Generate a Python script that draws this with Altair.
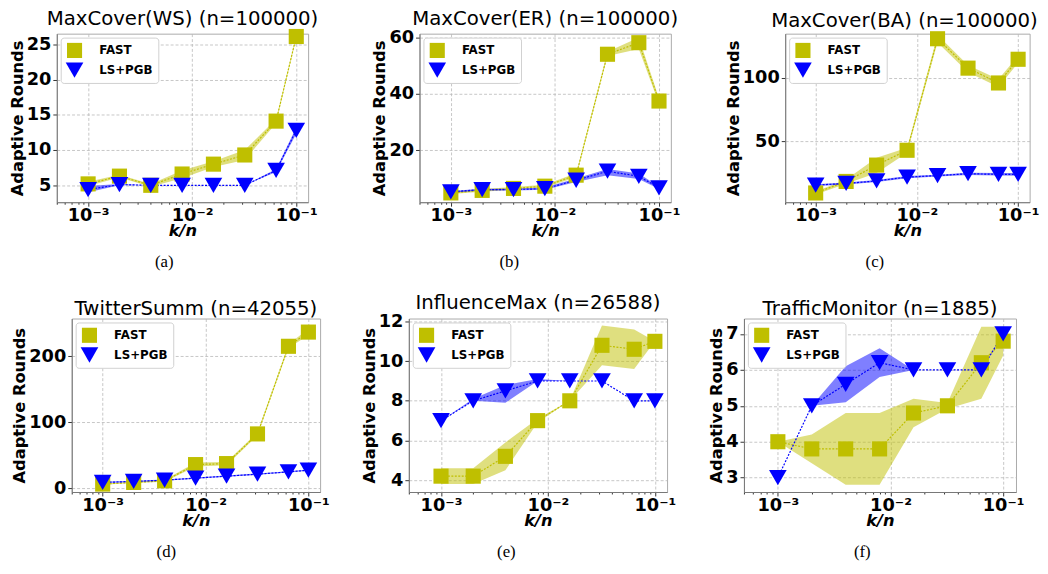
import altair as alt
import pandas as pd

# ---------------- data ----------------
X = [0.001, 0.002, 0.004, 0.008, 0.016, 0.032, 0.064, 0.1]
SERIES = ["FAST", "LS+PGB"]
COLORS = ["#bfbf00", "#0000ff"]
SHAPES = ["square", "triangle-down"]

titles = ["MaxCover(WS) (n=100000)", "MaxCover(ER) (n=100000)", "MaxCover(BA) (n=100000)",
          "TwitterSumm (n=42055)", "InfluenceMax (n=26588)", "TrafficMonitor (n=1885)"]
captions = ["(a)", "(b)", "(c)", "(d)", "(e)", "(f)"]

fast_a = [5.2, 6.3, 5.0, 6.6, 8.0, 9.3, 14.1, 26.1]
fast_a_lo = [4.9, 6.1, 4.8, 6.0, 7.6, 8.6, 13.8, 25.9]
fast_a_hi = [5.5, 6.5, 5.2, 7.1, 8.4, 10.0, 14.4, 26.3]
ls_a = [4.4, 5.1, 5.0, 5.0, 5.0, 5.0, 7.1, 12.8]
ls_a_lo = [4.0, 5.0, 5.0, 5.0, 5.0, 5.0, 6.9, 12.3]
ls_a_hi = [4.9, 5.2, 5.0, 5.0, 5.0, 5.0, 7.3, 13.2]

fast_b = [4.9, 5.8, 6.5, 7.3, 11.2, 54.1, 58.2, 37.5]
fast_b_lo = [4.5, 5.3, 6.0, 6.8, 10.5, 53.5, 56.0, 36.5]
fast_b_hi = [5.3, 6.3, 7.0, 7.8, 11.9, 55.0, 60.0, 38.5]
ls_b = [5.3, 6.1, 6.1, 6.4, 9.4, 12.6, 10.8, 6.7]
ls_b_lo = [5.0, 5.8, 5.8, 6.0, 8.8, 11.2, 9.8, 6.3]
ls_b_hi = [5.6, 6.4, 6.4, 6.8, 10.0, 13.4, 11.8, 7.1]

fast_c = [9.3, 18.4, 31.3, 43.0, 131.0, 107.8, 96.1, 114.8]
fast_c_lo = [8.0, 16.5, 25.0, 41.0, 128.0, 104.5, 93.0, 112.0]
fast_c_hi = [10.5, 20.0, 37.0, 45.0, 134.0, 110.0, 99.0, 117.5]
ls_c = [15.5, 16.8, 18.8, 21.8, 23.0, 24.5, 24.0, 24.0]
ls_c_lo = [14.8, 16.0, 18.0, 21.0, 22.3, 23.5, 23.0, 22.8]
ls_c_hi = [16.2, 17.6, 19.6, 22.6, 23.7, 25.3, 25.0, 25.0]

fast_d = [6.5, 9.0, 11.4, 36.0, 37.5, 82.4, 215.0, 236.5]
fast_d_lo = [5.5, 8.0, 10.0, 33.0, 35.0, 80.0, 212.0, 232.0]
fast_d_hi = [7.5, 10.0, 12.8, 39.0, 40.0, 85.0, 218.0, 241.0]
ls_d = [9.0, 10.5, 12.5, 15.5, 18.5, 21.5, 25.0, 27.5]
ls_d_lo = [8.0, 9.5, 11.5, 14.5, 17.5, 20.5, 24.0, 26.5]
ls_d_hi = [10.0, 11.5, 13.5, 16.5, 19.5, 22.5, 26.0, 28.5]

fast_e = [4.2, 4.2, 5.2, 7.0, 8.0, 10.8, 10.6, 11.0]
fast_e_lo = [3.8, 3.8, 4.5, 6.9, 8.0, 9.8, 9.6, 11.0]
fast_e_hi = [4.6, 4.6, 5.9, 7.1, 8.0, 11.8, 11.6, 11.0]
ls_e = [7.0, 8.0, 8.5, 9.0, 9.0, 9.0, 8.0, 8.0]
ls_e_lo = [7.0, 8.0, 7.9, 9.0, 9.0, 9.0, 8.0, 8.0]
ls_e_hi = [7.0, 8.1, 8.8, 9.1, 9.0, 9.0, 8.0, 8.0]

fast_f = [4.0, 3.8, 3.8, 3.8, 4.8, 5.0, 6.2, 6.8]
fast_f_lo = [4.0, 3.4, 2.8, 2.8, 4.4, 4.92, 5.2, 6.4]
fast_f_hi = [4.0, 4.2, 4.8, 4.8, 5.2, 5.08, 7.2, 7.2]
ls_f = [3.0, 5.0, 5.6, 6.2, 6.0, 6.0, 6.0, 7.0]
ls_f_lo = [3.0, 5.0, 5.1, 5.8, 6.0, 6.0, 6.0, 7.0]
ls_f_hi = [3.0, 5.0, 6.1, 6.6, 6.0, 6.0, 6.0, 7.0]

y_domains = [[2.6, 26.5], [1.6, 61.4], [2.0, 135.0], [-5.5, 257.0], [3.4, 12.15], [2.6, 7.43]]
y_ticks = [[5, 10, 15, 20, 25], [20, 40, 60], [50, 100], [0, 100, 200], [4, 6, 8, 10, 12], [3, 4, 5, 6, 7]]

# ---------------- layout/styling ----------------
widths = [255, 255, 248, 252, 262, 276]
heights = [171, 171, 171, 176, 176, 176]
cap_pos = [(109, 232), (91, 232), (91, 232), (96, 237), (99, 237), (120, 237)]
title_dx = [0, 0, -3, 0, 0, 0]

X_TICKS = [0.0005, 0.0006, 0.0007, 0.0008, 0.0009, 0.001,
           0.002, 0.003, 0.004, 0.005, 0.006, 0.007, 0.008, 0.009, 0.01,
           0.02, 0.03, 0.04, 0.05, 0.06, 0.07, 0.08, 0.09, 0.1]
LOGV = "(log(datum.value)/LN10)"
MAJOR = f"abs({LOGV} - round({LOGV})) < 0.001"
LABEL_EXPR = (f"{MAJOR} ? ('10' + (round({LOGV}) == -3 ? '⁻³' : round({LOGV}) == -2 ? '⁻²' : '⁻¹')) : ''")

series_data = [
    (fast_a, fast_a_lo, fast_a_hi, ls_a, ls_a_lo, ls_a_hi),
    (fast_b, fast_b_lo, fast_b_hi, ls_b, ls_b_lo, ls_b_hi),
    (fast_c, fast_c_lo, fast_c_hi, ls_c, ls_c_lo, ls_c_hi),
    (fast_d, fast_d_lo, fast_d_hi, ls_d, ls_d_lo, ls_d_hi),
    (fast_e, fast_e_lo, fast_e_hi, ls_e, ls_e_lo, ls_e_hi),
    (fast_f, fast_f_lo, fast_f_hi, ls_f, ls_f_lo, ls_f_hi),
]


def make_panel(i):
    f, flo, fhi, l, llo, lhi = series_data[i]
    rows = []
    for s, ys, lo, hi in [("FAST", f, flo, fhi), ("LS+PGB", l, llo, lhi)]:
        for xv, yv, a, b in zip(X, ys, lo, hi):
            rows.append({"x": xv, "y": yv, "lo": a, "hi": b, "series": s})
    df = pd.DataFrame(rows)

    xaxis = alt.Axis(
        values=X_TICKS, labelExpr=LABEL_EXPR, labelOverlap=False, labelFlush=False,
        title="k/n", titleFontStyle="italic", titlePadding=-2, labelPadding=1,
        tickSize={"condition": {"test": MAJOR, "value": 4}, "value": 2},
        gridOpacity={"condition": {"test": MAJOR, "value": 1}, "value": 0},
    )
    xscale = alt.Scale(type="log", domain=[0.0005, 0.13], nice=False)
    yscale = alt.Scale(domain=y_domains[i], nice=False, zero=False)
    yaxis = alt.Axis(values=y_ticks[i], titlePadding=1, labelPadding=2, tickSize=4)

    xenc = alt.X("x:Q", scale=xscale, axis=xaxis)
    base = alt.Chart(df)
    layers = []
    for s, c in zip(SERIES, COLORS):
        sub = base.transform_filter(alt.datum.series == s)
        layers.append(sub.mark_area(color=c, opacity=0.5).encode(
            x=xenc,
            y=alt.Y("lo:Q", scale=yscale, axis=yaxis, title="Adaptive Rounds"),
            y2="hi:Q"))
        layers.append(sub.mark_line(color=c, strokeWidth=1.2, strokeDash=[2, 1.5]).encode(
            x=xenc,
            y=alt.Y("y:Q", scale=yscale, axis=yaxis, title="Adaptive Rounds")))

    leg = alt.Legend(title=None, orient="top-left")
    pts = base.mark_point(filled=True, opacity=1).encode(
        x=xenc,
        y=alt.Y("y:Q", scale=yscale, axis=yaxis, title="Adaptive Rounds"),
        color=alt.Color("series:N", scale=alt.Scale(domain=SERIES, range=COLORS), legend=leg),
        shape=alt.Shape("series:N", scale=alt.Scale(domain=SERIES, range=SHAPES), legend=leg),
        size=alt.Size("series:N", scale=alt.Scale(domain=SERIES, range=[235, 320]), legend=None),
    )
    cx, cy = cap_pos[i]
    cap = alt.Chart(pd.DataFrame({"c": [captions[i]]})).mark_text(
        font="Liberation Serif", fontSize=17, baseline="middle", align="center", color="black"
    ).encode(x=alt.value(cx), y=alt.value(cy), text="c:N")

    return alt.layer(*layers, pts, cap).properties(
        width=widths[i], height=heights[i],
        title=alt.TitleParams(titles[i], offset=0, dx=title_dx[i]),
    )


def indep(ch):
    return ch.resolve_scale(color="independent", shape="independent", size="independent")


p = [make_panel(i) for i in range(6)]
row1 = indep(alt.hconcat(indep(alt.hconcat(p[0], p[1], spacing=53)), p[2], spacing=44))
row2 = indep(alt.hconcat(indep(alt.hconcat(p[3], p[4], spacing=31)), p[5], spacing=31))

chart = indep(alt.vconcat(row1, row2, spacing=21, center=True)).properties(
    padding={"left": 0, "top": -4, "right": 0, "bottom": 0}
).configure_view(
    stroke="#aaaaaa", strokeWidth=1
).configure_axis(
    labelFont="DejaVu Sans", labelFontWeight="bold", labelFontSize=18, labelColor="black",
    titleFont="DejaVu Sans", titleFontWeight="bold", titleFontSize=16.5, titleColor="black",
    gridColor="#b8b8b8", gridDash=[3, 2], gridWidth=0.8,
    tickColor="#333333", domainColor="#777777",
).configure_title(
    font="DejaVu Sans", fontSize=20, fontWeight="normal", color="black", anchor="middle"
).configure_legend(
    labelFont="DejaVu Sans", labelFontWeight="bold", labelFontSize=12, labelColor="black",
    symbolSize=220, symbolStrokeWidth=0, symbolOpacity=1, labelOffset=16,
    padding=5, rowPadding=3, offset=4,
    fillColor="white", strokeColor="#d0d0d0", cornerRadius=3,
)

chart.save("out.html", embed_options={"renderer": "svg", "actions": False})
